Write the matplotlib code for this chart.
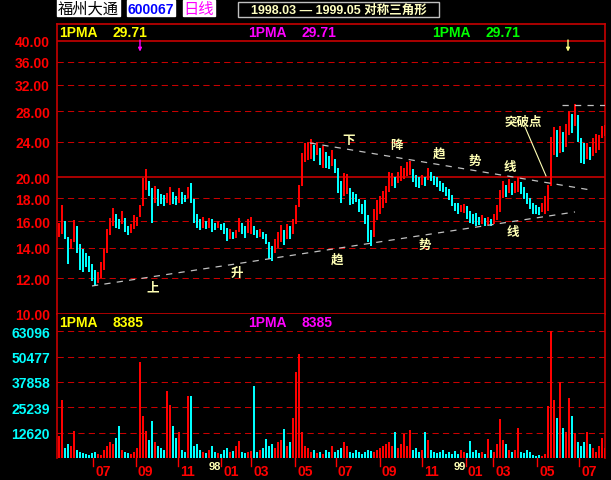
import matplotlib
matplotlib.use('Agg')
import matplotlib.pyplot as plt
import matplotlib.transforms as mtransforms
from matplotlib.patches import Rectangle
from matplotlib.ticker import NullLocator, NullFormatter

W, H, DPI = 611, 481, 100

# ---- 福州大通 600067, daily data grouped in 3-trading-day bars ----
high = [15.9, 17.4, 16.0, 14.8, 14.6, 16.1, 15.6, 14.3, 13.9, 13.6,
        13.4, 12.9, 12.5, 12.4, 13.0, 13.9, 15.4, 16.3, 17.1, 16.6,
        16.2, 16.9, 16.3, 15.6, 15.8, 16.5, 16.4, 17.4, 19.9, 20.9,
        19.6, 19.0, 19.2, 18.9, 18.4, 18.3, 18.5, 19.1, 18.6, 18.2,
        19.0, 18.6, 18.3, 19.1, 19.4, 17.9, 16.6, 16.2, 16.4, 16.0,
        16.3, 16.2, 15.9, 16.0, 15.8, 15.9, 15.5, 15.4, 15.2, 15.3,
        16.3, 15.9, 15.6, 16.2, 16.4, 15.6, 15.3, 15.4, 15.2, 15.0,
        14.4, 14.1, 14.6, 15.2, 15.7, 15.3, 15.8, 15.6, 16.2, 17.4,
        19.3, 22.6, 23.8, 24.0, 24.3, 23.6, 24.0, 23.2, 23.5, 22.8,
        22.3, 23.0, 22.0, 21.0, 19.6, 20.5, 20.4, 19.0, 18.6, 18.4,
        17.9, 17.5, 17.8, 16.5, 15.3, 17.0, 17.8, 18.2, 18.7, 19.2,
        20.6, 20.5, 20.1, 20.6, 21.2, 21.0, 21.6, 21.8, 20.9, 20.3,
        20.0, 20.3, 20.0, 21.0, 20.6, 20.2, 20.0, 19.6, 19.4, 19.1,
        18.9, 18.3, 17.6, 17.6, 17.4, 17.5, 17.3, 16.9, 16.6, 16.7,
        16.4, 16.5, 16.3, 16.4, 16.2, 16.6, 17.4, 18.8, 19.6, 19.3,
        19.8, 19.4, 19.6, 20.1, 19.5, 19.1, 18.5, 18.0, 17.6, 17.4,
        17.2, 17.6, 18.2, 19.3, 24.6, 25.9, 25.5, 26.0, 25.2, 26.2,
        28.0, 27.6, 29.0, 27.5, 24.5, 23.8, 23.8, 23.4, 24.5, 25.0,
        24.8, 26.0, 26.1]
low = [14.8, 15.0, 14.6, 12.9, 13.9, 14.4, 13.6, 12.5, 12.4, 12.7,
       12.4, 11.8, 11.6, 11.7, 12.0, 12.5, 13.6, 14.9, 15.6, 15.5,
       15.4, 15.8, 15.2, 14.9, 15.1, 15.4, 15.6, 16.4, 17.3, 18.8,
       18.2, 15.9, 17.6, 17.3, 17.5, 17.3, 17.6, 17.4, 17.5, 17.4,
       17.6, 17.5, 17.7, 18.0, 17.6, 15.9, 15.5, 15.3, 15.5, 15.4,
       15.5, 15.2, 15.3, 15.5, 15.3, 15.0, 14.5, 14.6, 14.6, 14.7,
       15.2, 15.0, 14.7, 15.1, 15.0, 14.9, 14.7, 14.8, 14.6, 14.3,
       13.2, 13.1, 13.6, 14.0, 14.4, 14.2, 14.6, 14.6, 15.0, 15.8,
       17.2, 19.2, 21.6, 21.9, 22.0, 21.8, 22.4, 21.3, 21.0, 21.0,
       20.9, 21.2, 20.5, 18.5, 17.6, 18.2, 18.4, 17.4, 17.5, 17.7,
       16.8, 16.6, 15.8, 14.4, 14.1, 14.8, 16.1, 16.6, 17.1, 17.6,
       18.6, 19.2, 19.0, 19.4, 19.6, 19.8, 20.2, 20.3, 19.5, 19.1,
       19.0, 19.3, 19.2, 19.7, 19.6, 19.3, 19.1, 18.7, 18.6, 18.2,
       17.8, 17.3, 16.9, 16.6, 16.8, 16.7, 16.2, 15.9, 15.8, 15.6,
       15.7, 15.8, 15.6, 15.7, 15.6, 15.8, 16.1, 16.8, 18.0, 18.1,
       18.5, 18.3, 18.5, 18.6, 18.4, 17.9, 17.5, 17.0, 16.6, 16.6,
       16.5, 16.8, 16.6, 16.9, 19.2, 22.4, 22.2, 22.6, 22.8, 23.4,
       24.8, 25.1, 26.0, 24.0, 21.5, 21.4, 22.0, 21.9, 22.3, 22.7,
       23.0, 24.5, 24.7]
volume = [11000, 28700, 5000, 7000, 6000, 13600, 4000, 3000, 2500, 2000,
          1500, 2500, 3000, 2000, 1500, 4000, 6000, 8000, 7000, 10000,
          15800, 4000, 3000, 2500, 2000, 3000, 5000, 47600, 21000, 13600,
          9000, 18600, 8000, 6000, 5000, 4000, 33500, 26400, 16000, 10000,
          12800, 4000, 3000, 31000, 30700, 6000, 7000, 4000, 3000, 2500,
          4000, 6000, 3000, 2500, 2000, 4000, 5000, 3000, 3500, 6000,
          8500, 3000, 2500, 3000, 3500, 35700, 3000, 4000, 5000, 9500,
          6000, 7000, 5000, 8000, 9000, 14400, 6000, 8000, 20000, 42700,
          51800, 13000, 6000, 5000, 3000, 4000, 2500, 3000, 2000, 4000,
          3000, 6000, 3000, 4000, 5000, 8000, 6000, 3000, 2500, 4000,
          3000, 2000, 3000, 4000, 3500, 3000, 4000, 5000, 6000, 7000,
          8000, 6000, 13000, 5000, 7000, 12000, 6000, 14000, 4000, 5000,
          3000, 4000, 13000, 9000, 4000, 3000, 2500, 3000, 4000, 2000,
          3000, 2000, 3500, 2000, 4000, 3000, 2500, 8500, 3000, 4000,
          2500, 3000, 2000, 9500, 4000, 3000, 7000, 19400, 9000, 7000,
          4000, 3000, 4000, 15000, 3000, 2500, 4000, 3000, 1500, 1000,
          1500, 1000, 2000, 26000, 63000, 29000, 20000, 38000, 15000, 13000,
          30000, 21000, 12500, 8000, 6000, 8000, 12800, 7000, 5000, 3000,
          6000, 10000, 5000]

# month starts as trading-day numbers (day 0 = first bar)
month_days = [35, 78, 120, 163, 193, 237, 278, 322, 364, 408, 435, 479, 521]
month_labels = ['07', '09', '11', '01', '03', '05', '07', '09', '11',
                '01', '03', '05', '07']
year_days = [151, 396]
year_labels = ['98', '99']

price_ticks = [40, 36, 32, 28, 24, 20, 18, 16, 14, 12, 10]
solid_prices = [40, 20]
vol_ticks = [63096, 50477, 37858, 25239, 12620]

# symmetric triangle: support / resistance lines and the breakout top
support_days, support_prices = [34, 517], [11.53, 16.79]
resist_days, resist_prices = [252, 532], [23.83, 18.78]
top_days, top_prices = [504, 549], [28.9, 28.9]

RED = '#FF0000'
GRID = '#C80000'
CYAN = '#00FFFF'
TEXT_Y = '#FFFFB4'
TREND = '#C0C0C0'

plt.rcParams['font.family'] = ['Liberation Sans', 'Noto Sans CJK SC', 'DejaVu Sans']

fig = plt.figure(figsize=(W / DPI, H / DPI), dpi=DPI, facecolor='black')


def fbox(x0, y0, x1, y1):
    return [x0 / W, 1 - y1 / H, (x1 - x0) / W, (y1 - y0) / H]


def fpt(x, y):
    return x / W, 1 - y / H


axp = fig.add_axes(fbox(57, 25, 605, 315))
axv = fig.add_axes(fbox(57, 315, 605, 459))

n = len(high)
days = [3 * i + 1 for i in range(n)]
mids = [(h + l) / 2 for h, l in zip(high, low)]
colors = [RED if i == 0 or mids[i] >= mids[i - 1] else CYAN for i in range(n)]

# ---- price panel ----
axp.set_facecolor('black')
axp.set_yscale('log')
axp.set_xlim(-1, 547)
axp.set_ylim(10.0, 43.6)
for p in price_ticks[:-1]:
    if p in solid_prices:
        axp.axhline(p, color=GRID, lw=1.2, zorder=1)
    else:
        axp.axhline(p, color=GRID, lw=0.75, ls=(0, (6, 4)), zorder=1)

axp.bar(days, [h - l for h, l in zip(high, low)], bottom=low, width=2,
        color=colors, linewidth=0, antialiased=False, zorder=3)

dash = (0, (5, 5))
axp.plot(support_days, support_prices, color=TREND, lw=0.9, ls=dash, zorder=4)
axp.plot(resist_days, resist_prices, color=TREND, lw=0.9, ls=dash, zorder=4)
axp.plot(top_days, top_prices, color=TREND, lw=0.9, ls=dash, zorder=4)

axp.set_yticks(price_ticks)
axp.set_yticklabels([f'{p:.2f}' for p in price_ticks])
axp.yaxis.set_minor_locator(NullLocator())
axp.yaxis.set_minor_formatter(NullFormatter())
axp.tick_params(axis='y', length=0, pad=5, labelcolor=RED, labelsize=10)
for t in axp.get_yticklabels():
    t.set_fontweight('bold')
axp.set_xticks([])
for s in axp.spines.values():
    s.set_color(GRID)
    s.set_linewidth(1.2)

# trend-line captions
cap_kw = dict(color=TEXT_Y, fontsize=9, fontweight='bold', ha='center',
              va='center', family=['Noto Sans CJK SC'], zorder=6)
for d, p, s in [(95, 11.45, '上'), (179, 12.32, '升'), (279, 13.23, '趋'),
                (367, 14.27, '势'), (455, 15.2, '线')]:
    axp.text(d, p, s, **cap_kw)
for d, p, s in [(291, 24.2, '下'), (338, 23.6, '降'), (381, 22.66, '趋'),
                (417, 21.86, '势'), (452, 21.2, '线')]:
    axp.text(d, p, s, **cap_kw)
axp.text(465, 26.65, '突破点', **cap_kw)
axp.plot([467, 488], [25.85, 20.16], color=TEXT_Y, lw=0.8, zorder=5)

# markers at the top of the price panel
axp.annotate('', xy=(82, 37.9), xytext=(82, 40.2),
             arrowprops=dict(arrowstyle='-|>', color='#FF00FF', lw=1.0,
                             mutation_scale=5, shrinkA=0, shrinkB=0))
axp.annotate('', xy=(510, 37.9), xytext=(510, 40.2),
             arrowprops=dict(arrowstyle='-|>', color='#FFFF80', lw=1.0,
                             mutation_scale=5, shrinkA=0, shrinkB=0))

# ---- volume panel ----
axv.set_facecolor('black')
axv.set_xlim(-1, 547)
axv.set_ylim(0, 71630)
for v in vol_ticks:
    axv.axhline(v, color=GRID, lw=0.75, ls=(0, (6, 4)), zorder=1)
axv.bar(days, volume, width=2, color=colors, linewidth=0,
        antialiased=False, zorder=3)
axv.set_yticks(vol_ticks)
axv.set_yticklabels([str(v) for v in vol_ticks])
axv.tick_params(axis='y', length=0, pad=5, labelcolor=CYAN, labelsize=10)
for t in axv.get_yticklabels():
    t.set_fontweight('bold')
axv.set_xticks([])
for k, s in axv.spines.items():
    s.set_color(GRID)
    s.set_linewidth(1.2)
axv.spines['top'].set_visible(False)
axv.spines['bottom'].set_visible(False)

# month ticks and labels under the volume panel
trans = mtransforms.blended_transform_factory(axv.transData, axv.transAxes)
for d, lab in zip(month_days, month_labels):
    axv.plot([d, d], [0, -8 / 144], color=RED, lw=1, transform=trans,
             clip_on=False)
    axv.text(d + 2, -13 / 144, lab, color=RED, fontsize=10, fontweight='bold',
             ha='left', va='center', transform=trans)
for d, lab in zip(year_days, year_labels):
    axv.text(d, -8.5 / 144, lab, color=TEXT_Y, fontsize=8,
             fontweight='bold', ha='left', va='center', transform=trans,
             zorder=7)

# ---- indicator headers ----
hdr = dict(fontsize=10, fontweight='bold', va='center', ha='left')
for x0, col in [(59, '#FFFF00'), (248, '#FF00FF'), (432, '#00FF00')]:
    fig.text(*fpt(x0, 33), '1PMA', color=col, **hdr)
    fig.text(*fpt(x0 + 54, 33), '29.71', color=col, **hdr)
for x0, col in [(59, '#FFFF00'), (248, '#FF00FF')]:
    fig.text(*fpt(x0, 323), '1PMA', color=col, **hdr)
    fig.text(*fpt(x0 + 54, 323), '8385', color=col, **hdr)

# ---- title bar ----
def label_box(x0, y0, x1, y1, text, fg, bg, edge=None, **kw):
    fig.add_artist(Rectangle(fpt(x0, y1), (x1 - x0) / W, (y1 - y0) / H,
                             transform=fig.transFigure, facecolor=bg,
                             edgecolor=edge if edge else bg, linewidth=1))
    fig.text(*fpt((x0 + x1) / 2, (y0 + y1) / 2 + 0.5), text, color=fg,
             ha='center', va='center', **kw)


label_box(57, 0, 120, 17, '福州大通', 'black', 'white', fontsize=11,
          family=['Noto Sans CJK SC'])
label_box(127, 1, 175, 17, '600067', '#0000FF', 'white', fontsize=10,
          fontweight='bold')
label_box(183, 1, 215, 17, '日线', '#FF00FF', 'white', fontsize=11,
          family=['Noto Sans CJK SC'])
label_box(238, 3, 439, 18, '1998.03 — 1999.05 对称三角形', '#FFFFC0', 'black',
          edge='#C0C0C0', fontsize=9, fontweight='bold')

fig.savefig('out.png', dpi=DPI, facecolor='black')
